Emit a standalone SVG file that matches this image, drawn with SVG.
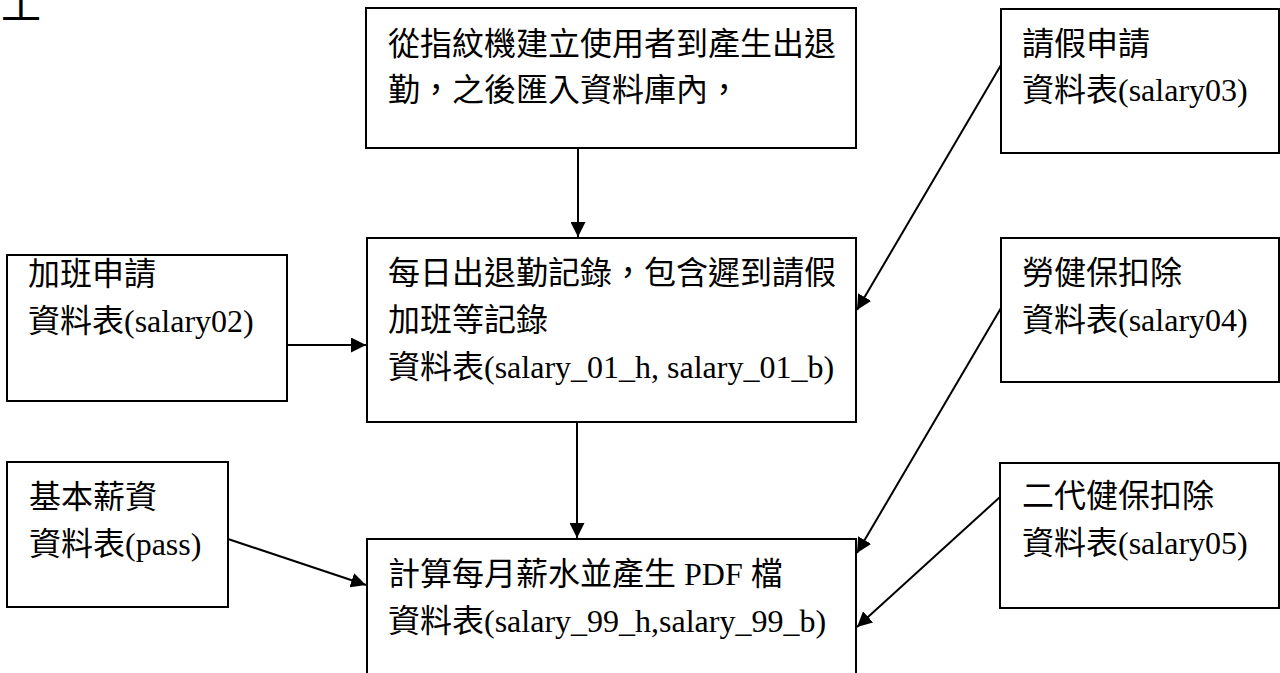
<svg xmlns="http://www.w3.org/2000/svg" width="1280" height="673" viewBox="0 0 1280 673">
<style>
.box{fill:#fff;stroke:#000;stroke-width:2}
.t{font-family:"Liberation Serif","Noto Sans CJK TC",serif;font-size:32px;fill:#000}
.c{fill:none;stroke:#000;stroke-width:2}
</style>
<defs>
<marker id="ah" markerUnits="userSpaceOnUse" markerWidth="16" markerHeight="15" refX="15" refY="7.5" orient="auto">
<path d="M0,0 L15,7.5 L0,15 z" fill="#000"/>
</marker>
</defs>
<rect width="1280" height="673" fill="#fff"/>
<text class="t" x="1" y="19" style="font-size:40px">工</text>
<g id="connectors">
<line class="c" x1="578" y1="148" x2="578" y2="237" marker-end="url(#ah)"/>
<line class="c" x1="577" y1="422" x2="577" y2="538" marker-end="url(#ah)"/>
<line class="c" x1="287" y1="345" x2="366" y2="345" marker-end="url(#ah)"/>
<line class="c" x1="1001" y1="65" x2="857" y2="310" marker-end="url(#ah)"/>
<line class="c" x1="1001" y1="308" x2="857" y2="553" marker-end="url(#ah)"/>
<line class="c" x1="1000" y1="497" x2="857" y2="627" marker-end="url(#ah)"/>
<line class="c" x1="228" y1="539" x2="366" y2="585" marker-end="url(#ah)"/>
</g>
<g id="n_source">
<rect class="box" x="366" y="8" width="490" height="140"/>
<text class="t" x="388" y="55">從指紋機建立使用者到產生出退</text>
<text class="t" x="388" y="101">勤，之後匯入資料庫內，</text>
</g>
<g id="n_daily">
<rect class="box" x="367" y="238" width="489" height="184"/>
<text class="t" x="388" y="284">每日出退勤記錄，包含遲到請假</text>
<text class="t" x="388" y="331">加班等記錄</text>
<text class="t" x="388" y="378">資料表(salary_01_h, salary_01_b)</text>
</g>
<g id="n_monthly">
<rect class="box" x="367" y="539" width="489" height="150"/>
<text class="t" x="388" y="585">計算每月薪水並產生 PDF 檔</text>
<text class="t" x="388" y="632">資料表(salary_99_h,salary_99_b)</text>
</g>
<g id="n_overtime">
<rect class="box" x="7" y="255" width="280" height="146"/>
<text class="t" x="28" y="285">加班申請</text>
<text class="t" x="28" y="332">資料表(salary02)</text>
</g>
<g id="n_base">
<rect class="box" x="7" y="462" width="221" height="145"/>
<text class="t" x="29" y="508">基本薪資</text>
<text class="t" x="29" y="555">資料表(pass)</text>
</g>
<g id="n_leave">
<rect class="box" x="1001" y="9" width="278" height="144"/>
<text class="t" x="1022" y="55">請假申請</text>
<text class="t" x="1022" y="101">資料表(salary03)</text>
</g>
<g id="n_insurance">
<rect class="box" x="1001" y="238" width="278" height="144"/>
<text class="t" x="1022" y="284">勞健保扣除</text>
<text class="t" x="1022" y="331">資料表(salary04)</text>
</g>
<g id="n_nhi2">
<rect class="box" x="1000" y="463" width="279" height="145"/>
<text class="t" x="1022" y="507">二代健保扣除</text>
<text class="t" x="1022" y="554">資料表(salary05)</text>
</g>
</svg>
